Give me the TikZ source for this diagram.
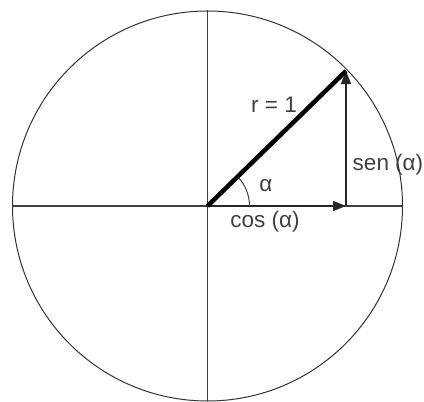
\documentclass[tikz,border=0pt]{standalone}
\usepackage{fontspec}
\setmainfont{Liberation Sans}
\usetikzlibrary{arrows.meta}
\begin{document}
\begin{tikzpicture}[x=1pt,y=-1pt,
  lbl/.style={font=\fontsize{22.5}{24}\selectfont, text=black!75, inner sep=0pt},
  axis/.style={draw=black!75, line width=1.6pt},
  vec/.style={draw=black!85, line width=1.6pt, -{Triangle[length=13pt,width=10pt]}}]
\useasboundingbox (0,0) rectangle (424,402);
\coordinate (O) at (207.5,206);
\coordinate (L) at (12,206);
\coordinate (R) at (402,206);
\coordinate (T) at (207.5,10);
\coordinate (B) at (207.5,401);
\coordinate (P) at (346,71);
\coordinate (F) at (346,206);
\draw[draw=black!80, line width=1pt] (O) circle[radius=195];
\draw[axis] (L) -- (R);
\draw[axis] (T) -- (B);
\draw[vec] (O) -- (F);
\draw[vec] (F) -- (P);
\draw[line width=4.5pt] (O) -- (P);
\draw[draw=black!75, line width=1pt] ([xshift=42pt]O) arc[start angle=0, end angle=-44, radius=42];
\node[lbl] (r) at (274,105) {r = 1};
\node[lbl] (a) at (266,186) {α};
\node[lbl] (c) at (265,222) {cos (α)};
\node[lbl] (s) at (388,165) {sen (α)};
\end{tikzpicture}
\end{document}
